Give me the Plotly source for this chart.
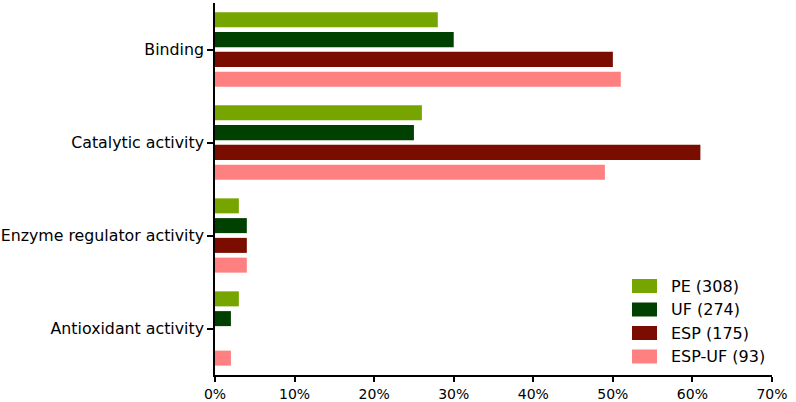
import plotly.graph_objects as go

categories = ["Binding", "Catalytic activity", "Enzyme regulator activity", "Antioxidant activity"]
series_names = ["PE (308)", "UF (274)", "ESP (175)", "ESP-UF (93)"]
pe = [28, 26, 3, 3]
uf = [30, 25, 4, 2]
esp = [50, 61, 4, 0]
esp_uf = [51, 49, 4, 2]
colors = ["#77a500", "#004000", "#7a0c00", "#ff8080"]
x_ticks = [0, 10, 20, 30, 40, 50, 60, 70]
x_tick_labels = [f"{v}%" for v in x_ticks]

FONT = "DejaVu Sans, Verdana, sans-serif"
W, H = 796, 402
L, R, T, B = 215, 24, 3, 27
PW, PH = W - L - R, H - T - B

fig = go.Figure()
for name, vals, col in zip(series_names, [pe, uf, esp, esp_uf], colors):
    fig.add_trace(go.Bar(y=categories, x=vals, name=name, orientation="h",
                         marker=dict(color=col, line=dict(width=0)), showlegend=False))

# custom legend (larger swatches, like the reference)
legend_x0, legend_y0, step = 632, 279, 23.5
shapes = []
annotations = []
for i, (name, col) in enumerate(zip(series_names, colors)):
    y_top = legend_y0 + i * step
    shapes.append(dict(type="rect", xref="paper", yref="paper",
                       x0=(legend_x0 - L) / PW, x1=(legend_x0 + 25 - L) / PW,
                       y0=(H - B - y_top) / PH, y1=(H - B - y_top - 14) / PH,
                       fillcolor=col, line=dict(width=0)))
    annotations.append(dict(xref="paper", yref="paper",
                            x=(legend_x0 + 37 - L) / PW, y=(H - B - y_top - 7) / PH,
                            text=name, showarrow=False, xanchor="left", yanchor="middle",
                            font=dict(family=FONT, size=16, color="black")))

fig.update_layout(
    width=W, height=H,
    margin=dict(l=L, r=R, t=T, b=B),
    paper_bgcolor="white", plot_bgcolor="white",
    barmode="group", bargap=0.15, bargroupgap=0.24,
    font=dict(family=FONT, size=16, color="black"),
    showlegend=False,
    shapes=shapes, annotations=annotations,
    xaxis=dict(range=[0, 70], tickmode="array", tickvals=x_ticks, ticktext=x_tick_labels,
               showgrid=False, zeroline=False, automargin=False,
               showline=True, linecolor="black", linewidth=1.6, ticks="outside", ticklen=5,
               tickcolor="black", tickwidth=1.6, tickfont=dict(size=14)),
    yaxis=dict(autorange="reversed", showgrid=False, zeroline=False, showline=True, automargin=False,
               linecolor="black", linewidth=1.6, ticks="outside", ticklen=6,
               tickcolor="black", tickwidth=1.6, tickfont=dict(size=15.8)),
)
fig.write_html("out.html", config={"displayModeBar": False},
               post_script="document.body.style.margin='0';document.body.style.overflow='hidden';")
